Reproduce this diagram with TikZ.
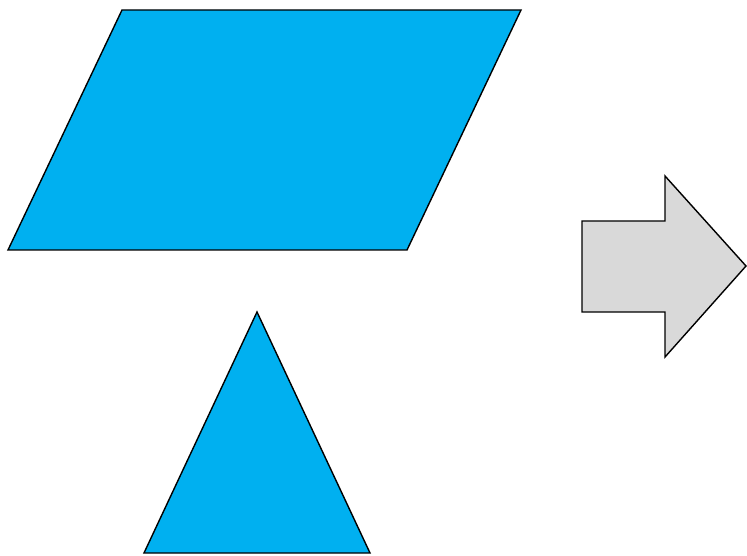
\documentclass[tikz,border=0pt]{standalone}
\definecolor{shapeblue}{HTML}{00B0F0}
\definecolor{arrowgray}{HTML}{D9D9D9}
\begin{document}
\begin{tikzpicture}[x=1pt,y=-1pt,
  blueshape/.style={fill=shapeblue,draw=black,line width=1.4pt,line join=miter},
  grayshape/.style={fill=arrowgray,draw=black,line width=1.4pt,line join=miter}]
\useasboundingbox (0,0) rectangle (747,556);
% parallelogram
\draw[blueshape] (122,10) -- (521,10) -- (407,250) -- (8,250) -- cycle;
% triangle
\draw[blueshape] (257,312) -- (370,553) -- (144,553) -- cycle;
% block arrow
\draw[grayshape] (582,221) -- (665,221) -- (665,176) -- (746,266) -- (665,357) -- (665,312) -- (582,312) -- cycle;
\end{tikzpicture}
\end{document}
